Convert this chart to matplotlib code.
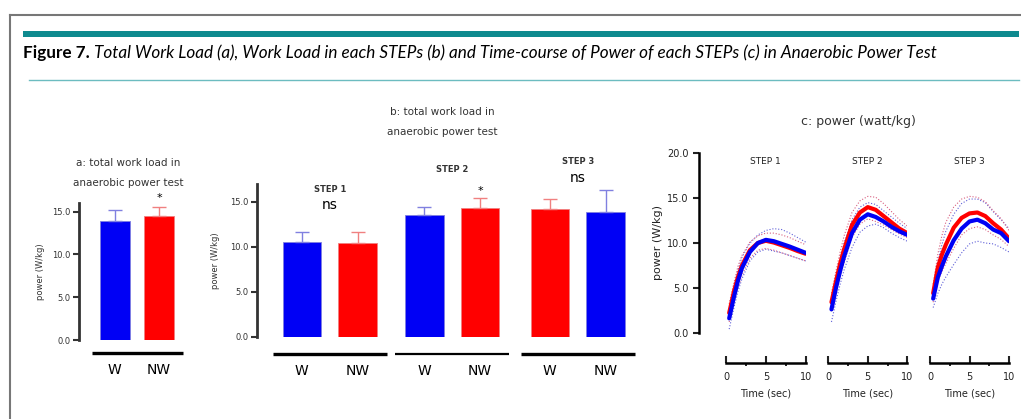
import matplotlib.pyplot as plt
from matplotlib.patches import Rectangle
from matplotlib.lines import Line2D
from matplotlib.ticker import MultipleLocator

# ---- data ----
groups = ["W", "NW"]
total_mean = [13.85, 14.5]
total_err = [1.3, 1.05]

steps = ["STEP 1", "STEP 2", "STEP 3"]
step_labels = [["W", "NW"], ["W", "NW"], ["W", "NW"]]
step_mean = [[10.55, 10.45], [13.5, 14.35], [14.2, 13.85]]
step_err = [[1.1, 1.2], [0.95, 1.05], [1.1, 2.5]]
step_colors = [["blue", "red"], ["blue", "red"], ["red", "blue"]]
step_marks = ["ns", "*", "ns"]

t = [0.4, 1, 1.5, 2, 3, 4, 5, 6, 7, 8, 9, 10]
w_mean = [
    [1.6, 4.0, 5.8, 7.2, 9.0, 10.0, 10.35, 10.2, 9.9, 9.6, 9.25, 8.9],
    [2.6, 5.1, 6.9, 8.5, 11.1, 12.6, 13.2, 12.9, 12.4, 11.8, 11.3, 10.9],
    [3.8, 6.2, 7.4, 8.5, 10.3, 11.6, 12.4, 12.6, 12.2, 11.5, 11.1, 10.2],
]
nw_mean = [
    [2.2, 4.6, 6.2, 7.5, 9.2, 10.0, 10.25, 10.05, 9.75, 9.45, 9.1, 8.8],
    [3.4, 5.8, 7.7, 9.3, 12.0, 13.4, 14.0, 13.7, 13.0, 12.3, 11.6, 11.1],
    [4.4, 7.3, 8.7, 9.8, 11.7, 12.8, 13.3, 13.4, 13.0, 12.2, 11.5, 10.5],
]
w_upper = [
    [2.6, 5.2, 7.0, 8.4, 10.0, 10.9, 11.4, 11.6, 11.5, 11.1, 10.6, 10.1],
    [3.8, 6.4, 8.3, 10.0, 12.6, 14.0, 14.5, 14.3, 13.6, 12.9, 12.2, 11.6],
    [4.8, 8.0, 9.8, 11.3, 13.2, 14.4, 14.9, 14.9, 14.5, 13.5, 12.6, 11.6],
]
w_lower = [
    [0.4, 2.8, 4.6, 6.0, 8.0, 9.0, 9.3, 9.1, 8.9, 8.6, 8.3, 8.0],
    [1.2, 3.6, 5.4, 7.0, 9.5, 11.2, 11.9, 12.1, 11.7, 11.1, 10.6, 10.2],
    [2.8, 4.4, 5.4, 6.2, 7.6, 8.9, 9.9, 10.2, 10.0, 9.9, 9.5, 9.0],
]
nw_upper = [
    [3.2, 5.6, 7.4, 8.6, 10.1, 10.8, 11.1, 11.1, 10.9, 10.6, 10.2, 9.8],
    [4.4, 7.0, 9.0, 10.8, 13.4, 14.7, 15.2, 15.1, 14.4, 13.5, 12.6, 11.9],
    [5.4, 8.8, 10.8, 12.3, 14.0, 14.9, 15.2, 15.1, 14.6, 13.6, 12.7, 11.4],
]
nw_lower = [
    [1.2, 3.6, 5.0, 6.4, 8.3, 9.2, 9.4, 9.2, 8.9, 8.6, 8.3, 8.0],
    [2.4, 4.6, 6.4, 7.8, 10.6, 12.1, 12.7, 12.4, 12.0, 11.5, 11.0, 10.6],
    [3.4, 5.8, 6.8, 7.7, 9.4, 10.9, 11.6, 11.8, 11.5, 10.9, 10.4, 9.6],
]

BLUE = "#0000f5"
RED = "#ff0000"
ERR = {"blue": "#8080e0", "red": "#f08080"}
COL = {"blue": BLUE, "red": RED}

W, H = 1021, 419
fig = plt.figure(figsize=(W / 100, H / 100), dpi=100)
plt.rcParams['font.family'] = ['DejaVu Sans']


def box(x0, y_top, x1, y_bot):
    # pixel box -> figure fraction rect
    return [x0 / W, 1 - y_bot / H, (x1 - x0) / W, (y_bot - y_top) / H]


# ---- page decoration ----
fig.add_artist(Line2D([10 / W, 1], [1 - 15 / H] * 2, color="#777777", lw=1.5))
fig.add_artist(Line2D([10 / W] * 2, [0, 1 - 15 / H], color="#777777", lw=1.5))
fig.add_artist(Rectangle((23 / W, 1 - 37 / H), 996 / W, 6 / H, color="#0e8a8f", lw=0))
fig.add_artist(Line2D([29 / W, 1019 / W], [1 - 80 / H] * 2, color="#6cbcc0", lw=1))
cap = fig.text(23 / W, 1 - 58 / H, "Figure 7.", fontsize=12.3, fontweight="bold",
               family="Lato", va="baseline")
fig.canvas.draw()
bb = cap.get_window_extent()
fig.text(bb.x1 / W + 4 / W, 1 - 58 / H,
         "Total Work Load (a), Work Load in each STEPs (b) and Time-course of Power "
         "of each STEPs (c) in Anaerobic Power Test",
         fontsize=12.3, style="italic", family="Lato", va="baseline")


def style_bar_axes(ax, top):
    for s in ["top", "right", "bottom"]:
        ax.spines[s].set_visible(False)
    ax.spines["left"].set_linewidth(2)
    ax.spines["left"].set_color("#333333")
    ax.set_ylim(0, top)
    ax.set_yticks([0, 5, 10, 15])
    ax.set_yticklabels(["0.0", "5.0", "10.0", "15.0"])
    ax.tick_params(axis="y", length=4, width=1.5, labelsize=6, colors="#333333", pad=2)
    ax.set_xticks([])
    ax.patch.set_alpha(0)


# ---- panel a ----
axa = fig.add_axes(box(79, 203, 190, 340))
style_bar_axes(axa, 16)
xa = [0, 1]
sc = 44.5
axa.set_xlim(-36 / sc, 1 + 31 / sc)
cols_a = ["blue", "red"]
for i in range(2):
    axa.bar(xa[i], total_mean[i], width=30 / sc, color=COL[cols_a[i]],
            edgecolor=ERR[cols_a[i]], lw=0.6)
    axa.errorbar(xa[i], total_mean[i], yerr=[[0], [total_err[i]]], fmt="none",
                 ecolor=ERR[cols_a[i]], capsize=5, elinewidth=1)
    axa.text(xa[i], -0.22, groups[i], transform=axa.get_xaxis_transform(),
             ha="center", va="center", fontsize=10)
axa.plot([-23 / sc, 68 / sc], [-0.095, -0.095], transform=axa.get_xaxis_transform(),
         color="black", lw=2.4, clip_on=False, solid_capstyle="butt")
axa.text(1, total_mean[1] + total_err[1] + 0.5, "*", ha="center", va="bottom", fontsize=8)
axa.set_ylabel("power (W/kg)", fontsize=6, color="#333333", labelpad=5.5)
fig.text(128 / W, 1 - 163 / H, "a: total work load in", ha="center", va="center",
         fontsize=7.5, color="#333333")
fig.text(128 / W, 1 - 183 / H, "anaerobic power test", ha="center", va="center",
         fontsize=7.5, color="#333333")

# ---- panel b ----
axb = fig.add_axes(box(257, 183.7, 640, 336.7))
style_bar_axes(axb, 17)
sc = 55.7
axb.set_xlim(-44.8 / sc, 338 / sc)
gpos = [0, 2.2, 4.45]
line_w = [2.4, 1.6, 2.4]
step_y = [16.4, 18.6, 19.5]
mark_y = [14.6, 16.2, 17.6]
for g in range(3):
    for i in range(2):
        x = gpos[g] + i
        c = step_colors[g][i]
        axb.bar(x, step_mean[g][i], width=38.5 / sc, color=COL[c], edgecolor=ERR[c], lw=0.6)
        axb.errorbar(x, step_mean[g][i], yerr=[[0], [step_err[g][i]]], fmt="none",
                     ecolor=ERR[c], capsize=5, elinewidth=1)
        axb.text(x, -0.224, step_labels[g][i], transform=axb.get_xaxis_transform(),
                 ha="center", va="center", fontsize=10)
    mid = gpos[g] + 0.5
    axb.plot([mid - 1.02, mid + 1.02], [-0.113, -0.113], transform=axb.get_xaxis_transform(),
             color="black", lw=line_w[g], clip_on=False, solid_capstyle="butt")
    axb.text(mid, step_y[g], steps[g], ha="center", va="center", fontsize=6,
             fontweight="bold", color="#333333", clip_on=False)
    if step_marks[g] == "*":
        axb.text(gpos[g] + 1, mark_y[g], "*", ha="center", va="center", fontsize=8,
                 clip_on=False)
    else:
        axb.text(mid, mark_y[g], step_marks[g], ha="center", va="center", fontsize=10,
                 clip_on=False)
axb.set_ylabel("power (W/kg)", fontsize=6, color="#333333", labelpad=7.5)
fig.text(442 / W, 1 - 112 / H, "b: total work load in", ha="center", va="center",
         fontsize=7.5, color="#333333")
fig.text(442 / W, 1 - 132 / H, "anaerobic power test", ha="center", va="center",
         fontsize=7.5, color="#333333")

# ---- panel c ----
xs = [(726, 805.7), (828.3, 907.3), (930, 1009)]
for k in range(3):
    ax = fig.add_axes(box(xs[k][0], 153.3, xs[k][1], 332.7))
    ax.patch.set_alpha(0)
    ax.set_xlim(0, 10)
    ax.set_ylim(0, 20)
    for s in ["top", "right"]:
        ax.spines[s].set_visible(False)
    ax.spines["bottom"].set_position(("outward", 22))
    ax.spines["bottom"].set_linewidth(1.8)
    ax.set_xticks([0, 5, 10])
    ax.xaxis.set_minor_locator(MultipleLocator(2.5))
    ax.tick_params(axis="x", which="major", direction="in", length=5, width=1.5,
                   labelsize=7, pad=6, colors="#222222")
    ax.tick_params(axis="x", which="minor", direction="out", length=2, width=1.2)
    ax.set_xlabel("Time (sec)", fontsize=7, labelpad=5, color="#222222")
    if k == 0:
        ax.spines["left"].set_position(("outward", 19.3))
        ax.spines["left"].set_linewidth(1.8)
        ax.set_yticks([0, 5, 10, 15, 20])
        ax.set_yticklabels(["0.0", "5.0", "10.0", "15.0", "20.0"])
        ax.tick_params(axis="y", length=4, width=1.5, labelsize=7, colors="#222222")
        ax.set_ylabel("power (W/kg)", fontsize=8, color="#222222", labelpad=3)
    else:
        ax.spines["left"].set_visible(False)
        ax.set_yticks([])
    for arr, c in [(w_upper, "#6060d8"), (w_lower, "#6060d8"),
                   (nw_upper, "#d86080"), (nw_lower, "#d86080")]:
        ax.plot(t, arr[k], ls=":", lw=0.8, color=c)
    ax.plot(t, nw_mean[k], color=RED, lw=3, solid_capstyle="round")
    ax.plot(t, w_mean[k], color=BLUE, lw=3, solid_capstyle="round")
    ax.text(5, 19.1, steps[k], ha="center", va="center", fontsize=6.5, color="#222222")
fig.text(858 / W, 1 - 121 / H, "c: power (watt/kg)", ha="center", va="center",
         fontsize=9, color="#333333")

fig.savefig("out.png", dpi=100)
